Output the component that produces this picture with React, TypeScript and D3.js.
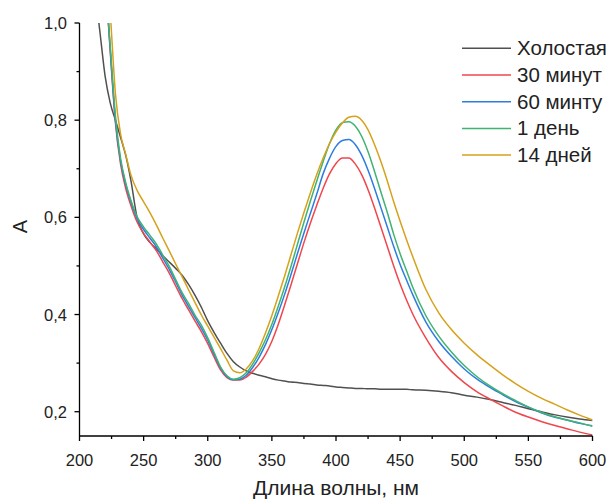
import React from 'react';
import * as d3 from 'd3';

// wavelength grid, nm
const wavelengths = [
  212, 216, 220, 224, 228, 232, 236, 240,
  245, 250, 255, 260, 265, 270, 275, 280, 285, 290, 295, 300,
  305, 310, 315, 320, 325, 330, 335, 340, 345, 350, 355, 360,
  365, 370, 375, 380, 385, 390, 395, 400, 405, 410, 415, 420,
  425, 430, 435, 440, 445, 450, 455, 460,
  470, 480, 490, 500, 510, 520, 530, 540, 550, 560, 570, 580, 590, 600,
];

const blank = [
  1.07, 0.98, 0.89, 0.835, 0.8, 0.765, 0.728, 0.677,
  0.598, 0.566, 0.548, 0.535, 0.521, 0.508, 0.495, 0.481, 0.462, 0.44, 0.415, 0.387,
  0.363, 0.341, 0.32, 0.303, 0.292, 0.284, 0.279, 0.275, 0.272, 0.268, 0.265, 0.263,
  0.261, 0.26, 0.258, 0.257, 0.255, 0.254, 0.253, 0.251, 0.25, 0.249, 0.248, 0.248,
  0.247, 0.247, 0.246, 0.246, 0.246, 0.246, 0.246, 0.245,
  0.244, 0.242, 0.239, 0.234, 0.23, 0.225, 0.219, 0.213, 0.206, 0.2, 0.194, 0.189, 0.185, 0.182,
];

const min30 = [
  1.5, 1.28, 1.1, 0.94, 0.795, 0.71, 0.66, 0.625,
  0.59, 0.567, 0.549, 0.531, 0.508, 0.485, 0.459, 0.433, 0.41, 0.387, 0.365, 0.34,
  0.312, 0.286, 0.27, 0.265, 0.265, 0.271, 0.283, 0.298, 0.318, 0.345, 0.38, 0.42,
  0.462, 0.505, 0.548, 0.588, 0.625, 0.66, 0.69, 0.711, 0.722, 0.722, 0.71, 0.688,
  0.657, 0.62, 0.58, 0.54, 0.5, 0.463, 0.43, 0.4,
  0.352, 0.312, 0.283, 0.26, 0.241, 0.226, 0.212, 0.199, 0.189, 0.18, 0.172, 0.165, 0.158, 0.152,
];

const min60 = [
  1.5, 1.28, 1.1, 0.945, 0.8, 0.716, 0.668, 0.632,
  0.597, 0.575, 0.557, 0.539, 0.516, 0.493, 0.467, 0.44, 0.417, 0.394, 0.372, 0.347,
  0.318, 0.29, 0.272, 0.266, 0.267, 0.275, 0.291, 0.312, 0.338, 0.369, 0.404, 0.442,
  0.483, 0.526, 0.568, 0.608, 0.648, 0.69, 0.722, 0.746, 0.758, 0.76, 0.75, 0.728,
  0.697, 0.66, 0.62, 0.58, 0.54, 0.503, 0.471, 0.44,
  0.385, 0.345, 0.314, 0.288, 0.267, 0.25, 0.235, 0.221, 0.209, 0.198, 0.189, 0.183, 0.176, 0.171,
];

const day1 = [
  1.5, 1.28, 1.1, 0.95, 0.81, 0.722, 0.672, 0.636,
  0.601, 0.58, 0.563, 0.545, 0.522, 0.499, 0.472, 0.445, 0.423, 0.399, 0.378, 0.352,
  0.322, 0.292, 0.274, 0.267, 0.27, 0.28, 0.298, 0.321, 0.348, 0.38, 0.417, 0.457,
  0.5, 0.545, 0.59, 0.633, 0.675, 0.715, 0.752, 0.78, 0.795, 0.797, 0.788, 0.767,
  0.735, 0.695, 0.652, 0.61, 0.565, 0.525, 0.49, 0.455,
  0.398, 0.356, 0.323, 0.295, 0.272, 0.253, 0.237, 0.223, 0.21, 0.199, 0.19, 0.183, 0.177, 0.17,
];

const day14 = [
  1.6, 1.35, 1.16, 1.02, 0.855, 0.772, 0.73, 0.688,
  0.655, 0.632, 0.609, 0.584, 0.557, 0.531, 0.504, 0.478, 0.451, 0.425, 0.399, 0.376,
  0.353, 0.33, 0.306, 0.284, 0.28, 0.288, 0.305, 0.33, 0.362, 0.398, 0.438, 0.48,
  0.524, 0.568, 0.61, 0.65, 0.688, 0.722, 0.752, 0.776, 0.794, 0.806, 0.808, 0.8,
  0.78, 0.75, 0.715, 0.675, 0.632, 0.592, 0.554, 0.518,
  0.452, 0.404, 0.369, 0.341, 0.317, 0.296, 0.276, 0.258, 0.242, 0.228, 0.216, 0.204, 0.193, 0.183,
];

const seriesNames = ['Холостая', '30 минут', '60 минту', '1 день', '14 дней'];
const seriesValues = [blank, min30, min60, day1, day14];
const colors = ['#505050', '#f0464d', '#2d7de0', '#3fb36f', '#d6a21b'];

const xTicks = [200, 250, 300, 350, 400, 450, 500, 550, 600];
const xMinor = [225, 275, 325, 375, 425, 475, 525, 575];
const yTicks = [0.2, 0.4, 0.6, 0.8, 1.0];
const yMinor = [0.3, 0.5, 0.7, 0.9];

const W = 614;
const H = 501;
const left = 79.5;
const right = 592.5;
const top = 23;
const bottom = 436;
const font = '"Liberation Sans", Arial, sans-serif';

export default function App() {
  const x = d3.scaleLinear().domain([200, 600]).range([left, right]);
  const y = d3.scaleLinear().domain([0.15, 1.0]).range([bottom, top]);
  const fmt = (v: number) => d3.format('.1f')(v).replace('.', ',');

  const line = d3
    .line<number>()
    .x((_, i) => x(wavelengths[i]))
    .y(d => y(d))
    .curve(d3.curveMonotoneX);

  return (
    <>
      <style>{`body{margin:0;background:#fff}`}</style>
      <svg width={W} height={H} style={{ display: 'block' }} fontFamily={font}>
        <rect width={W} height={H} fill="#fff" />
        <defs>
          <clipPath id="plot">
            <rect x={left} y={top} width={right - left} height={bottom - top} />
          </clipPath>
        </defs>

        <g clipPath="url(#plot)">
          {seriesValues.map((vals, i) => (
            <path
              key={seriesNames[i]}
              d={line(vals) || ''}
              fill="none"
              stroke={colors[i]}
              strokeWidth={1.5}
            />
          ))}
        </g>

        {/* axes */}
        <g stroke="#000" strokeWidth={1.3}>
          <line x1={left} x2={left} y1={top} y2={bottom} />
          <line x1={left} x2={right} y1={bottom} y2={bottom} />
          {xTicks.map(t => (
            <line key={t} x1={x(t)} x2={x(t)} y1={bottom} y2={bottom + 5} />
          ))}
          {xMinor.map(t => (
            <line key={t} x1={x(t)} x2={x(t)} y1={bottom} y2={bottom + 3} />
          ))}
          {yTicks.map(t => (
            <line key={t} x1={left - 5} x2={left} y1={y(t)} y2={y(t)} />
          ))}
          {yMinor.map(t => (
            <line key={t} x1={left - 3} x2={left} y1={y(t)} y2={y(t)} />
          ))}
        </g>

        <g fontSize={16.5} fill="#222">
          {xTicks.map(t => (
            <text key={t} x={x(t)} y={466} textAnchor="middle">
              {t}
            </text>
          ))}
          {yTicks.map(t => (
            <text key={t} x={67} y={y(t) + 6} textAnchor="end">
              {fmt(t)}
            </text>
          ))}
        </g>

        <text x={(left + right) / 2} y={495} textAnchor="middle" fontSize={21} fill="#222">
          Длина волны, нм
        </text>
        <text
          transform={`translate(27,${(top + bottom) / 2 - 3}) rotate(-90)`}
          textAnchor="middle"
          fontSize={20}
          fill="#222"
        >
          A
        </text>

        {/* legend */}
        <g>
          {seriesNames.map((name, i) => {
            const ly = 48.3 + i * 26.7;
            return (
              <g key={name}>
                <line x1={462} x2={511} y1={ly} y2={ly} stroke={colors[i]} strokeWidth={1.5} />
                <text x={517} y={ly + 7} fontSize={20.5} fill="#222">
                  {name}
                </text>
              </g>
            );
          })}
        </g>
      </svg>
    </>
  );
}
